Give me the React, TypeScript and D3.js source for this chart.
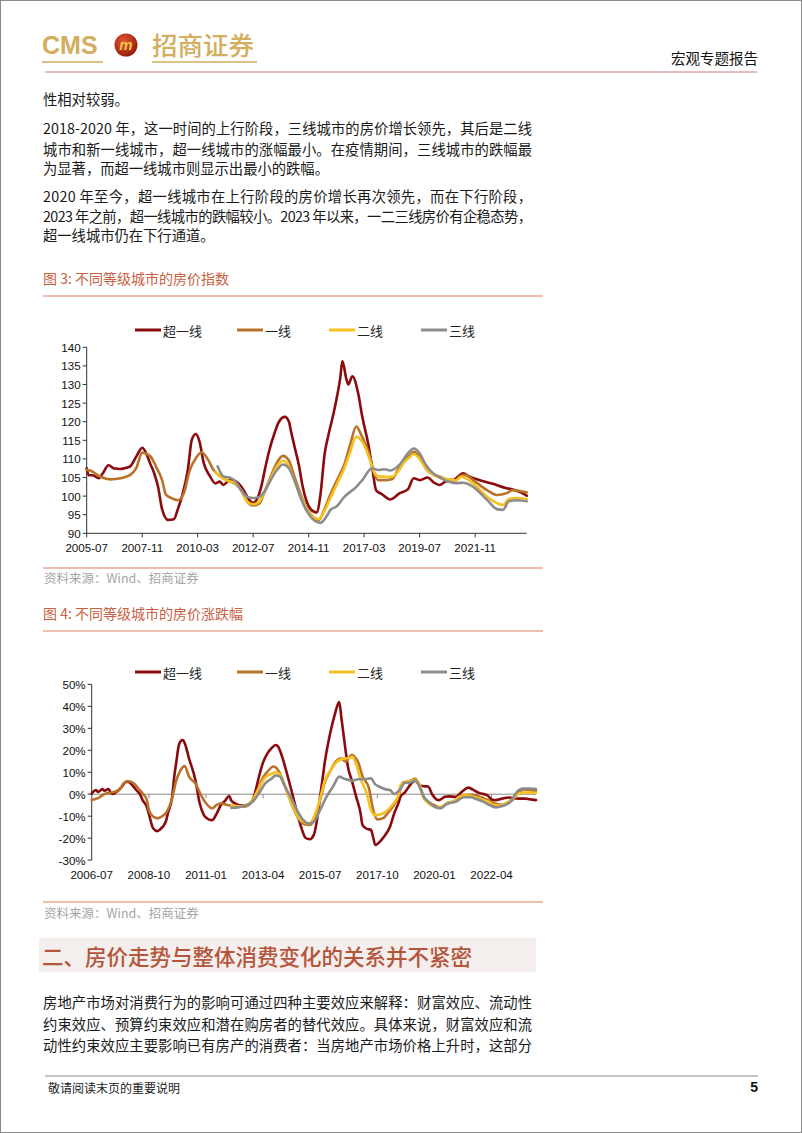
import React from "react";
import * as d3 from "d3";

type Pt = [string, number];

const seriesNames = ["超一线", "一线", "二线", "三线"];
const seriesColors = ["#8B0A0E", "#B8732A", "#F6C01E", "#8C8C8C"];

// 图3 房价指数
const idxSuper: Pt[] = [
  ["2005-07", 107.5], ["2005-08", 105.6], ["2005-10", 105.6], ["2006-01", 104.8], ["2006-03", 106.0],
  ["2006-06", 108.3], ["2006-09", 107.4], ["2006-12", 107.3], ["2007-03", 107.6], ["2007-05", 108.0],
  ["2007-08", 110.6], ["2007-11", 113.0], ["2008-01", 111.5], ["2008-03", 108.8], ["2008-05", 106.2],
  ["2008-07", 102.5], ["2008-09", 96.5], ["2008-12", 93.6], ["2009-03", 93.8], ["2009-05", 96.5],
  ["2009-07", 99.8], ["2009-10", 107.0], ["2009-12", 115.1], ["2010-02", 116.7], ["2010-04", 114.5],
  ["2010-06", 109.0], ["2010-09", 105.5], ["2010-12", 103.4], ["2011-02", 103.9], ["2011-04", 103.0],
  ["2011-07", 104.3], ["2011-10", 104.0], ["2012-01", 102.5], ["2012-03", 100.8], ["2012-05", 99.0],
  ["2012-07", 98.2], ["2012-09", 99.3], ["2012-11", 102.5], ["2013-01", 107.5], ["2013-03", 112.0],
  ["2013-06", 117.3], ["2013-08", 120.0], ["2013-11", 121.3], ["2014-01", 120.0], ["2014-02", 117.5],
  ["2014-04", 113.0], ["2014-06", 108.5], ["2014-08", 102.5], ["2014-10", 98.5], ["2014-12", 96.5],
  ["2015-03", 95.6], ["2015-05", 100.5], ["2015-07", 111.0], ["2015-09", 116.5], ["2015-11", 121.0],
  ["2016-01", 126.0], ["2016-03", 132.0], ["2016-04", 136.3], ["2016-06", 131.5], ["2016-07", 130.0],
  ["2016-09", 132.2], ["2016-12", 127.5], ["2017-02", 121.3], ["2017-05", 114.2], ["2017-07", 107.9],
  ["2017-09", 101.6], ["2017-12", 100.5], ["2018-04", 99.1], ["2018-09", 100.8], ["2019-01", 101.8],
  ["2019-04", 104.8], ["2019-07", 104.3], ["2019-11", 105.0], ["2020-02", 103.7], ["2020-05", 103.0],
  ["2020-08", 103.9], ["2020-12", 104.3], ["2021-05", 106.1], ["2021-08", 105.3], ["2022-01", 104.3],
  ["2022-08", 103.3], ["2023-03", 102.1], ["2023-06", 101.8], ["2023-10", 101.0], ["2024-01", 100.1],
];

const idxTier1: Pt[] = [
  ["2005-07", 107.0], ["2005-09", 106.8], ["2006-02", 105.2], ["2006-07", 104.5], ["2006-12", 104.8],
  ["2007-05", 105.7], ["2007-08", 107.5], ["2007-11", 111.7], ["2008-03", 110.8], ["2008-06", 107.9],
  ["2008-09", 104.3], ["2008-11", 100.3], ["2009-02", 99.4], ["2009-05", 98.9], ["2009-08", 100.8],
  ["2009-11", 107.0], ["2010-02", 110.2], ["2010-05", 111.8], ["2010-08", 110.0], ["2010-11", 107.0],
  ["2011-02", 105.5], ["2011-06", 104.2], ["2011-10", 103.3], ["2012-01", 101.5], ["2012-04", 98.5],
  ["2012-07", 97.5], ["2012-10", 98.0], ["2013-01", 101.5], ["2013-04", 105.5], ["2013-07", 109.0],
  ["2013-10", 110.8], ["2014-01", 109.5], ["2014-04", 105.0], ["2014-07", 100.5], ["2014-10", 96.8],
  ["2015-01", 94.5], ["2015-04", 93.5], ["2015-07", 96.5], ["2015-10", 100.5], ["2016-01", 104.0],
  ["2016-05", 108.5], ["2016-08", 114.0], ["2016-11", 118.7], ["2017-01", 117.0], ["2017-04", 113.5],
  ["2017-06", 110.5], ["2017-08", 106.1], ["2017-10", 104.3], ["2018-02", 104.3], ["2018-05", 104.5],
  ["2018-08", 107.0], ["2018-11", 109.5], ["2019-02", 111.0], ["2019-04", 111.9], ["2019-07", 110.5],
  ["2019-10", 107.5], ["2020-01", 106.0], ["2020-05", 105.3], ["2020-09", 104.5], ["2021-01", 104.3],
  ["2021-04", 105.5], ["2021-06", 105.7], ["2021-10", 104.3], ["2022-05", 101.6], ["2022-10", 100.3],
  ["2023-03", 100.8], ["2023-06", 101.6], ["2023-10", 101.3], ["2024-01", 101.0],
];

const idxTier2: Pt[] = [
  ["2010-12", 106.5], ["2011-03", 105.0], ["2011-07", 104.0], ["2011-10", 103.5], ["2012-01", 101.5],
  ["2012-04", 98.5], ["2012-07", 97.8], ["2012-10", 98.5], ["2013-01", 101.5], ["2013-04", 105.0],
  ["2013-07", 108.0], ["2013-10", 109.5], ["2014-01", 108.0], ["2014-04", 104.0], ["2014-07", 100.0],
  ["2014-10", 96.5], ["2015-01", 94.5], ["2015-04", 93.8], ["2015-07", 96.0], ["2015-10", 99.5],
  ["2016-01", 103.0], ["2016-05", 107.5], ["2016-08", 112.0], ["2016-11", 116.0], ["2017-01", 115.3],
  ["2017-04", 112.5], ["2017-06", 109.5], ["2017-08", 106.5], ["2017-10", 105.3], ["2018-02", 105.2],
  ["2018-05", 105.2], ["2018-08", 106.5], ["2018-11", 109.0], ["2019-02", 110.5], ["2019-04", 111.3],
  ["2019-07", 110.0], ["2019-10", 107.5], ["2020-01", 106.0], ["2020-05", 105.0], ["2020-09", 104.5],
  ["2021-01", 104.2], ["2021-04", 105.2], ["2021-10", 103.4], ["2022-05", 99.8], ["2022-10", 98.1],
  ["2023-01", 97.6], ["2023-04", 99.2], ["2023-08", 99.5], ["2024-01", 99.2],
];

const idxTier3: Pt[] = [
  ["2011-01", 108.0], ["2011-04", 105.3], ["2011-07", 105.0], ["2011-10", 104.0], ["2012-01", 101.5],
  ["2012-04", 99.8], ["2012-07", 99.5], ["2012-10", 99.8], ["2013-01", 101.5], ["2013-04", 104.5],
  ["2013-07", 107.0], ["2013-10", 108.5], ["2014-01", 107.5], ["2014-04", 104.0], ["2014-07", 99.5],
  ["2014-10", 96.0], ["2015-01", 93.8], ["2015-05", 92.8], ["2015-08", 94.5], ["2015-10", 96.3],
  ["2016-01", 97.2], ["2016-05", 99.8], ["2016-11", 102.5], ["2017-02", 104.3], ["2017-07", 107.5],
  ["2017-10", 107.0], ["2018-01", 107.2], ["2018-04", 106.9], ["2018-06", 107.2], ["2018-09", 108.5],
  ["2019-01", 111.5], ["2019-04", 112.8], ["2019-07", 111.5], ["2019-10", 108.5], ["2020-01", 106.5],
  ["2020-05", 105.0], ["2020-09", 104.0], ["2021-01", 103.5], ["2021-05", 103.6], ["2021-10", 102.5],
  ["2022-05", 99.0], ["2022-10", 96.5], ["2023-01", 96.3], ["2023-04", 98.6], ["2023-08", 98.9],
  ["2024-01", 98.6],
];

// 图4 房价涨跌幅 (%)
const yoySuper: Pt[] = [
  ["2006-07", 0.3], ["2006-09", 1.9], ["2006-10", 1.0], ["2006-12", 2.3], ["2007-01", 1.6],
  ["2007-03", 2.4], ["2007-04", 0.6], ["2007-05", 0.1], ["2007-07", 1.3], ["2007-09", 3.1],
  ["2007-11", 5.5], ["2007-12", 5.7], ["2008-02", 4.3], ["2008-04", 1.9], ["2008-06", -0.4],
  ["2008-07", -2.6], ["2008-09", -5.7], ["2008-10", -9.0], ["2008-12", -15.5], ["2009-02", -16.8],
  ["2009-03", -16.3], ["2009-06", -12.5], ["2009-07", -8.7], ["2009-09", -1.1], ["2009-10", 8.0],
  ["2009-11", 15.0], ["2009-12", 21.6], ["2010-01", 24.2], ["2010-02", 24.7], ["2010-03", 23.2],
  ["2010-05", 16.3], ["2010-08", 6.5], ["2010-10", -4.0], ["2010-12", -9.5], ["2011-02", -11.3],
  ["2011-04", -11.8], ["2011-06", -9.0], ["2011-08", -5.0], ["2011-10", -3.0], ["2011-12", -0.8],
  ["2012-01", -3.0], ["2012-03", -4.3], ["2012-05", -5.0], ["2012-08", -5.2], ["2012-10", -4.2],
  ["2012-12", 0.0], ["2013-02", 8.0], ["2013-04", 14.5], ["2013-06", 18.5], ["2013-08", 21.0],
  ["2013-10", 22.4], ["2013-11", 21.8], ["2014-01", 17.0], ["2014-03", 10.5], ["2014-06", -0.5],
  ["2014-08", -8.0], ["2014-10", -15.0], ["2014-12", -19.8], ["2015-02", -20.5], ["2015-04", -18.5],
  ["2015-06", -8.5], ["2015-07", -1.0], ["2015-08", 6.0], ["2015-09", 13.5], ["2015-11", 24.5],
  ["2015-12", 29.0], ["2016-02", 36.8], ["2016-03", 40.0], ["2016-04", 42.0], ["2016-05", 35.0],
  ["2016-07", 20.0], ["2016-08", 13.0], ["2016-10", 6.0], ["2016-12", -1.2], ["2017-02", -8.5],
  ["2017-03", -14.0], ["2017-05", -15.8], ["2017-07", -16.2], ["2017-08", -19.5], ["2017-09", -23.1],
  ["2017-11", -21.8], ["2018-01", -19.5], ["2018-04", -14.8], ["2018-06", -8.7], ["2018-08", -4.0],
  ["2018-09", -1.0], ["2018-11", 0.8], ["2019-02", 4.9], ["2019-04", 6.2], ["2019-06", 4.3],
  ["2019-08", 3.6], ["2019-10", 3.5], ["2019-12", -0.2], ["2020-01", -1.5], ["2020-03", -2.7],
  ["2020-06", -1.2], ["2020-08", -1.0], ["2020-11", -1.2], ["2021-02", 1.2], ["2021-05", 3.0],
  ["2021-07", 2.2], ["2021-10", 0.6], ["2022-02", -0.5], ["2022-04", -2.4], ["2022-06", -2.7],
  ["2022-09", -2.0], ["2022-12", -1.5], ["2023-02", -1.8], ["2023-05", -2.0], ["2023-08", -2.0],
  ["2023-10", -2.3], ["2024-01", -2.7],
];

const yoyTier1: Pt[] = [
  ["2006-07", -2.6], ["2006-10", -1.8], ["2007-01", 0.1], ["2007-04", 0.7], ["2007-08", 1.9],
  ["2007-10", 4.9], ["2007-12", 6.0], ["2008-03", 4.9], ["2008-05", 2.6], ["2008-07", 0.4],
  ["2008-09", -2.6], ["2008-10", -7.2], ["2008-12", -10.2], ["2009-02", -11.0], ["2009-04", -10.2],
  ["2009-06", -8.7], ["2009-09", -1.8], ["2009-11", 6.5], ["2010-01", 11.0], ["2010-03", 12.8],
  ["2010-05", 8.0], ["2010-08", 4.9], ["2010-11", -1.1], ["2011-01", -4.1], ["2011-04", -6.4],
  ["2011-06", -4.9], ["2011-08", -4.1], ["2011-11", -4.9], ["2012-03", -5.4], ["2012-07", -5.7],
  ["2012-10", -4.1], ["2013-01", -0.4], ["2013-03", 5.7], ["2013-06", 10.2], ["2013-09", 12.6],
  ["2013-12", 9.5], ["2014-03", 1.9], ["2014-06", -5.7], ["2014-09", -11.5], ["2014-12", -13.8],
  ["2015-02", -14.0], ["2015-04", -12.0], ["2015-07", -2.7], ["2015-09", 4.9], ["2015-12", 11.0],
  ["2016-03", 15.5], ["2016-05", 16.3], ["2016-07", 14.8], ["2016-10", 18.0], ["2016-11", 17.2],
  ["2017-01", 14.3], ["2017-03", 8.2], ["2017-06", 2.9], ["2017-08", -7.0], ["2017-10", -11.5],
  ["2018-01", -10.8], ["2018-03", -8.5], ["2018-05", -6.2], ["2018-08", -0.9], ["2018-10", 5.2],
  ["2019-01", 5.9], ["2019-04", 7.0], ["2019-06", 3.6], ["2019-08", -1.7], ["2019-11", -4.0],
  ["2020-02", -5.5], ["2020-04", -6.2], ["2020-07", -4.0], ["2020-10", -3.3], ["2021-01", -1.0],
  ["2021-04", -0.3], ["2021-07", -0.3], ["2021-10", -1.0], ["2022-02", -2.6], ["2022-05", -4.0],
  ["2022-08", -4.8], ["2022-11", -4.2], ["2023-02", -2.6], ["2023-05", 1.2], ["2023-08", 2.2],
  ["2023-12", 1.6], ["2024-01", 1.6],
];

const yoyTier2: Pt[] = [
  ["2012-01", -5.2], ["2012-05", -5.5], ["2012-08", -5.0], ["2012-11", -2.5], ["2013-02", 3.0],
  ["2013-05", 7.5], ["2013-08", 9.3], ["2013-10", 10.0], ["2013-12", 9.0], ["2014-03", 2.0],
  ["2014-06", -5.5], ["2014-09", -10.9], ["2014-12", -13.0], ["2015-02", -13.3], ["2015-04", -10.5],
  ["2015-07", -1.9], ["2015-09", 5.7], ["2015-12", 11.0], ["2016-03", 14.8], ["2016-06", 16.2],
  ["2016-09", 16.5], ["2016-10", 17.2], ["2016-12", 13.6], ["2017-02", 7.0], ["2017-05", 0.4],
  ["2017-07", -7.2], ["2017-09", -9.5], ["2017-12", -9.0], ["2018-02", -8.0], ["2018-05", -5.0],
  ["2018-08", -0.4], ["2018-09", 4.1], ["2018-12", 5.7], ["2019-04", 6.4], ["2019-06", 4.5],
  ["2019-08", -1.7], ["2019-11", -4.8], ["2020-02", -5.8], ["2020-05", -5.5], ["2020-07", -4.0],
  ["2020-10", -3.3], ["2021-01", -1.0], ["2021-04", -0.5], ["2021-07", -1.0], ["2021-10", -1.8],
  ["2022-02", -3.3], ["2022-05", -4.8], ["2022-08", -5.2], ["2022-11", -4.0], ["2023-02", -2.0],
  ["2023-05", 0.3], ["2023-08", 0.8], ["2024-01", 0.6],
];

const yoyTier3: Pt[] = [
  ["2012-01", -6.2], ["2012-04", -6.0], ["2012-07", -5.4], ["2012-11", -3.4], ["2013-02", 0.4],
  ["2013-05", 4.9], ["2013-08", 7.1], ["2013-10", 8.6], ["2013-12", 8.0], ["2014-02", 4.1],
  ["2014-05", -1.1], ["2014-08", -7.2], ["2014-11", -11.8], ["2015-02", -13.4], ["2015-04", -12.5],
  ["2015-07", -7.2], ["2015-10", -1.1], ["2016-01", 3.4], ["2016-04", 8.0], ["2016-06", 7.2],
  ["2016-10", 6.2], ["2017-01", 6.8], ["2017-04", 6.8], ["2017-07", 7.2], ["2017-09", 4.5],
  ["2017-11", 3.4], ["2018-02", 2.2], ["2018-04", 1.9], ["2018-06", 0.1], ["2018-09", 2.6],
  ["2018-11", 5.2], ["2019-01", 5.2], ["2019-04", 6.2], ["2019-06", 3.4], ["2019-08", -1.1],
  ["2019-11", -4.1], ["2020-01", -5.7], ["2020-04", -6.4], ["2020-06", -4.9], ["2020-08", -4.1],
  ["2020-11", -3.4], ["2021-03", -1.4], ["2021-06", -1.4], ["2021-09", -2.3], ["2021-12", -3.4],
  ["2022-03", -4.9], ["2022-06", -6.0], ["2022-09", -5.4], ["2023-01", -3.4], ["2023-04", 1.1],
  ["2023-07", 2.6], ["2023-10", 2.6], ["2024-01", 2.4],
];

const chart1XTicks = ["2005-07", "2007-11", "2010-03", "2012-07", "2014-11", "2017-03", "2019-07", "2021-11"];
const chart1YTicks = [90, 95, 100, 105, 110, 115, 120, 125, 130, 135, 140];
const chart2XTicks = ["2006-07", "2008-10", "2011-01", "2013-04", "2015-07", "2017-10", "2020-01", "2022-04"];
const chart2YTicks = [-30, -20, -10, 0, 10, 20, 30, 40, 50];

const parse = d3.timeParse("%Y-%m");
const SANS = "'Liberation Sans', Arial, 'Noto Sans CJK SC', sans-serif";
const CJK = "'Noto Sans CJK SC', 'Liberation Sans', sans-serif";
const legendXs = [135, 237, 329, 421];

type ChartProps = {
  series: Pt[][];
  xDomain: [string, string];
  xRange: [number, number];
  yDomain: [number, number];
  yRange: [number, number];
  xTicks: string[];
  yTicks: number[];
  yFmt: (v: number) => string;
  legendY: number;
  xAxisAt: number; // value where x axis line sits
  xAxisColor: string;
  xLabelY: number;
};

function LineChart(p: ChartProps) {
  const x = d3.scaleTime().domain([parse(p.xDomain[0])!, parse(p.xDomain[1])!]).range(p.xRange);
  const y = d3.scaleLinear().domain(p.yDomain).range(p.yRange);
  const line = d3
    .line<Pt>()
    .x((d) => x(parse(d[0])!))
    .y((d) => y(d[1]))
    .curve(d3.curveMonotoneX);
  const x0 = p.xRange[0];
  const axisY = y(p.xAxisAt);
  return (
    <g>
      {/* legend */}
      {seriesNames.map((n, i) => (
        <g key={n}>
          <line x1={legendXs[i]} x2={legendXs[i] + 26} y1={p.legendY} y2={p.legendY} stroke={seriesColors[i]} strokeWidth={3} />
          <text x={legendXs[i] + 28} y={p.legendY} dominantBaseline="central" fontSize={13} fontFamily={CJK} fill="#222">
            {n}
          </text>
        </g>
      ))}
      {/* y axis */}
      <line x1={x0} x2={x0} y1={y(p.yDomain[1])} y2={y(p.yDomain[0])} stroke="#333" strokeWidth={1} />
      {p.yTicks.map((t) => (
        <g key={t}>
          <line x1={x0 - 4} x2={x0} y1={y(t)} y2={y(t)} stroke="#333" />
          <text x={x0 - 6} y={y(t)} textAnchor="end" dominantBaseline="central" fontSize={11.6} fontFamily={SANS} fill="#111">
            {p.yFmt(t)}
          </text>
        </g>
      ))}
      {/* x axis */}
      <line x1={x0} x2={p.xRange[1]} y1={axisY} y2={axisY} stroke={p.xAxisColor} strokeWidth={1} />
      {p.xTicks.map((t) => (
        <g key={t}>
          <line x1={x(parse(t)!)} x2={x(parse(t)!)} y1={axisY} y2={axisY + 4} stroke={p.xAxisColor} />
          <text x={x(parse(t)!)} y={p.xLabelY} textAnchor="middle" dominantBaseline="central" fontSize={11.6} fontFamily={SANS} fill="#111">
            {t}
          </text>
        </g>
      ))}
      {/* series */}
      {p.series.map((s, i) => (
        <path key={i} d={line(s) || ""} fill="none" stroke={seriesColors[i]} strokeWidth={2.6} strokeLinejoin="round" strokeLinecap="round" />
      ))}
    </g>
  );
}

const topParagraphs: { t: string; y: number; j: boolean }[] = [
  { t: "性相对较弱。", y: 98, j: false },
  { t: "2018-2020 年，这一时间的上行阶段，三线城市的房价增长领先，其后是二线", y: 127, j: true },
  { t: "城市和新一线城市，超一线城市的涨幅最小。在疫情期间，三线城市的跌幅最", y: 148, j: true },
  { t: "为显著，而超一线城市则显示出最小的跌幅。", y: 167, j: false },
  { t: "2020 年至今，超一线城市在上行阶段的房价增长再次领先，而在下行阶段，", y: 195, j: true },
  { t: "2023 年之前，超一线城市的跌幅较小。2023 年以来，一二三线房价有企稳态势，", y: 215, j: true },
  { t: "超一线城市仍在下行通道。", y: 234, j: false },
];

const bottomParagraphs: { t: string; y: number; j: boolean }[] = [
  { t: "房地产市场对消费行为的影响可通过四种主要效应来解释：财富效应、流动性", y: 1001, j: true },
  { t: "约束效应、预算约束效应和潜在购房者的替代效应。具体来说，财富效应和流", y: 1023, j: true },
  { t: "动性约束效应主要影响已有房产的消费者：当房地产市场价格上升时，这部分", y: 1044, j: true },
];

function Para({ lines }: { lines: { t: string; y: number; j: boolean }[] }) {
  return (
    <g>
      {lines.map((l, i) => (
        <text
          key={i}
          x={43}
          y={l.y}
          dominantBaseline="central"
          fontSize={14.3}
          fontFamily={CJK}
          fill="#1a1a1a"
          {...(l.j ? { textLength: 489, lengthAdjust: "spacing" } : {})}
        >
          {l.t}
        </text>
      ))}
    </g>
  );
}

export default function App() {
  const gold = "#D2AE5E";
  const titleColor = "#C9603F";
  const ruleColor = "#E0805F";
  return (
    <svg
      width={802}
      height={1133}
      viewBox="0 0 802 1133"
      style={{ position: "absolute", left: 0, top: 0, background: "#fff" }}
    >
      <defs>
        <radialGradient id="logoG" cx="40%" cy="35%" r="70%">
          <stop offset="0%" stopColor="#E8552E" />
          <stop offset="100%" stopColor="#8E1A0C" />
        </radialGradient>
      </defs>
      <rect x={0.5} y={0.5} width={801} height={1132} fill="#fff" stroke="#8a8a8a" />

      {/* header */}
      <text x={42} y={54} fontSize={25} fontWeight={700} fontFamily="'Liberation Sans Narrow', 'Liberation Sans', Arial, sans-serif" fill={gold}>
        CMS
      </text>
      <circle cx={126} cy={45} r={11.5} fill="url(#logoG)" />
      <text x={126} y={50} textAnchor="middle" fontSize={15} fontWeight={700} fontStyle="italic" fontFamily={SANS} fill="#F3C24A">
        m
      </text>
      <text x={152} y={55} fontSize={25.5} fontFamily={CJK} fontWeight={500} fill={gold}>
        招商证券
      </text>
      <line x1={42} x2={103} y1={62} y2={62} stroke={gold} strokeWidth={1.5} />
      <line x1={152} x2={257} y1={62} y2={62} stroke={gold} strokeWidth={1.5} />
      <text x={758} y={57} textAnchor="end" dominantBaseline="central" fontSize={14.5} fontFamily={CJK} fill="#111">
        宏观专题报告
      </text>
      <line x1={45} x2={757} y1={72} y2={72} stroke="#D07A7A" strokeWidth={1.2} />

      <Para lines={topParagraphs} />

      {/* Figure 3 */}
      <text x={43} y={278} dominantBaseline="central" fontSize={14} fontFamily={CJK} fill={titleColor}>
        图 3:  不同等级城市的房价指数
      </text>
      <line x1={43} x2={543} y1={296} y2={296} stroke={ruleColor} strokeWidth={1.2} />
      <LineChart
        series={[idxSuper, idxTier1, idxTier2, idxTier3]}
        xDomain={["2005-07", "2024-01"]}
        xRange={[86.7, 526.7]}
        yDomain={[90, 140]}
        yRange={[533.3, 347.3]}
        xTicks={chart1XTicks}
        yTicks={chart1YTicks}
        yFmt={(v) => String(v)}
        legendY={330}
        xAxisAt={90}
        xAxisColor="#333"
        xLabelY={547}
      />
      <line x1={43} x2={543} y1={568} y2={568} stroke={ruleColor} strokeWidth={1.2} />
      <text x={44} y={577} dominantBaseline="central" fontSize={12.5} fontFamily={CJK} fill="#A5A5A5">
        资料来源：Wind、招商证券
      </text>

      {/* Figure 4 */}
      <text x={43} y={613} dominantBaseline="central" fontSize={14} fontFamily={CJK} fill={titleColor}>
        图 4:  不同等级城市的房价涨跌幅
      </text>
      <line x1={43} x2={543} y1={631} y2={631} stroke={ruleColor} strokeWidth={1.2} />
      <LineChart
        series={[yoySuper, yoyTier1, yoyTier2, yoyTier3]}
        xDomain={["2006-07", "2024-01"]}
        xRange={[91.7, 536]}
        yDomain={[-30, 50]}
        yRange={[860.1, 684.4]}
        xTicks={chart2XTicks}
        yTicks={chart2YTicks}
        yFmt={(v) => `${v}%`}
        legendY={672}
        xAxisAt={0}
        xAxisColor="#8a8a8a"
        xLabelY={874}
      />
      <line x1={43} x2={543} y1={902} y2={902} stroke={ruleColor} strokeWidth={1.2} />
      <text x={44} y={912} dominantBaseline="central" fontSize={12.5} fontFamily={CJK} fill="#A5A5A5">
        资料来源：Wind、招商证券
      </text>

      {/* Section heading */}
      <rect x={39} y={938} width={497} height={34} fill="#F4EEEC" />
      <text x={42} y={955} dominantBaseline="central" fontSize={21.5} fontWeight={500} fontFamily={CJK} fill="#B5553C">
        二、房价走势与整体消费变化的关系并不紧密
      </text>

      <Para lines={bottomParagraphs} />

      {/* footer */}
      <line x1={45} x2={758} y1={1076} y2={1076} stroke="#8a8a8a" strokeWidth={1} />
      <text x={48} y={1087} dominantBaseline="central" fontSize={12} fontFamily={CJK} fill="#222">
        敬请阅读末页的重要说明
      </text>
      <text x={758} y={1087} textAnchor="end" dominantBaseline="central" fontSize={14} fontWeight={700} fontFamily={SANS} fill="#111">
        5
      </text>
    </svg>
  );
}
